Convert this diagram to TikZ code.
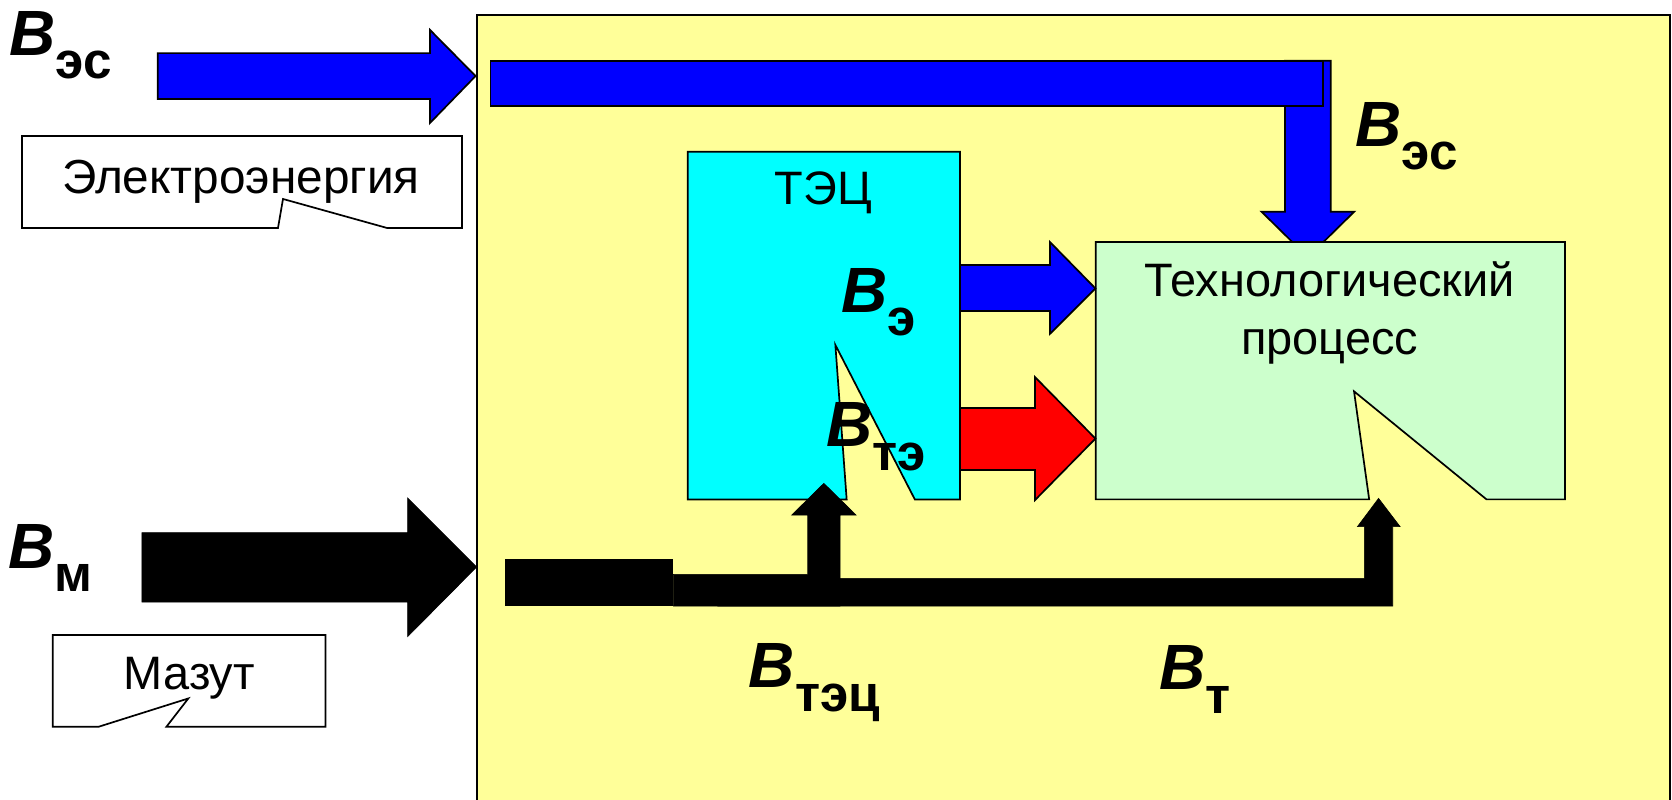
\documentclass[tikz,border=0pt]{standalone}
\usepackage{fontspec}
\setmainfont{Liberation Sans}
\definecolor{bgyellow}{RGB}{255,255,153}
\definecolor{procgreen}{RGB}{204,255,204}
\definecolor{tecblue}{RGB}{0,0,255}
\definecolor{tecred}{RGB}{255,0,0}
\definecolor{teccyan}{RGB}{0,255,255}
\newcommand\Bsym[1]{{\fontsize{30}{30}\selectfont\bfseries\itshape B}\raisebox{-11pt}{\fontsize{24}{24}\selectfont\bfseries #1}}
\tikzset{
  outl/.style={draw=black, line width=0.8pt, line join=miter},
  bluearrow/.style={outl, fill=tecblue},
  redarrow/.style={outl, fill=tecred},
  blackarrow/.style={fill=black, draw=black, line width=0.3pt},
  calloutbox/.style={outl, fill=white},
  lbl/.style={inner sep=0pt, anchor=base, font=\fontsize{22}{26.8}\selectfont},
  blbl/.style={inner sep=0pt, anchor=base west},
}
\begin{document}
\begin{tikzpicture}[x=0.5pt,y=-0.5pt]
\clip (0,0) rectangle (1568,750);
\fill[white] (0,0) rectangle (1568,750);
% enterprise boundary
\draw[outl, fill=bgyellow] (447,14) rectangle (1566,770);
% electricity input arrow
\draw[bluearrow] (148,49.8) -- (403.3,49.8) -- (403.3,28.1) -- (446,71.3) -- (403.3,115.3) -- (403.3,92.8) -- (148,92.8) -- cycle;
% electricity bus and down arrow
\draw[bluearrow] (1205,57) -- (1248,57) -- (1248,198.5) -- (1270,198.5) -- (1226.5,241.3) -- (1183,198.5) -- (1205,198.5) -- cycle;
\draw[bluearrow] (460,57) rectangle (1241,99.4);
% fuel oil input arrow
\draw[blackarrow] (133,499.6) -- (382.3,499.6) -- (382.3,467) -- (447,531.7) -- (382.3,597) -- (382.3,564.6) -- (133,564.6) -- cycle;
% callouts
\draw[calloutbox] (20.6,127.5) -- (433.3,127.5) -- (433.3,213.8) -- (363,213.8) -- (265.4,186.6) -- (260.7,213.8) -- (20.6,213.8) -- cycle;
\node[lbl, font=\fontsize{22.4}{26.8}\selectfont] (elen) at (226,181) {Электроэнергия};
\draw[calloutbox] (49.5,595.5) -- (305.3,595.5) -- (305.3,681.5) -- (156.1,681.5) -- (176.6,655) -- (92.6,681.5) -- (49.5,681.5) -- cycle;
\node[lbl] (mazut) at (177.6,647) {Мазут};
% CHP box
\draw[outl, fill=teccyan] (645,142.3) -- (900.3,142.3) -- (900.3,468.5) -- (858,468.5) -- (783.4,323.5) -- (794,468.5) -- (645,468.5) -- cycle;
\node[lbl] (tec) at (772,192) {ТЭЦ};
% process box
\draw[outl, fill=procgreen] (1027.5,227) -- (1467.7,227) -- (1467.7,468.3) -- (1394,468.3) -- (1269.8,367) -- (1284,468.3) -- (1027.5,468.3) -- cycle;
\node[lbl] (proc1) at (1247,278.4) {Технологический};
\node[lbl] (proc2) at (1247,332) {процесс};
% CHP outputs
\draw[bluearrow] (900.3,248.5) -- (984.7,248.5) -- (984.7,227) -- (1027.3,270.5) -- (984.7,313) -- (984.7,291.7) -- (900.3,291.7) -- cycle;
\draw[redarrow] (900.3,382.6) -- (970.6,382.6) -- (970.6,353.6) -- (1027.3,411.3) -- (970.6,469) -- (970.6,440.8) -- (900.3,440.8) -- cycle;
% fuel distribution
\fill[black] (473.6,524.6) rectangle (631.5,568.3);
\draw[blackarrow] (631.5,538.6) -- (757.5,538.6) -- (757.5,483) -- (742.5,483) -- (772.6,453.3) -- (802.8,483) -- (787.8,483) -- (787.8,568.3) -- (631.5,568.3) -- cycle;
\draw[blackarrow] (673,542.4) -- (1279.5,542.4) -- (1279.5,493.9) -- (1273,493.9) -- (1292.8,467.4) -- (1313,493.9) -- (1306.1,493.9) -- (1306.1,568.3) -- (673,568.3) -- cycle;
% symbols
\node[blbl] (bes1) at (8.5,51.6) {\Bsym{эс}};
\node[blbl] (bes2) at (1270.5,137) {\Bsym{эс}};
\node[blbl] (be) at (788.5,292.6) {\Bsym{э}};
\node[blbl] (bte) at (774.4,419) {\Bsym{тэ}};
\node[blbl] (bm) at (7.8,532.7) {\Bsym{м}};
\node[blbl] (btec) at (702,645) {\Bsym{тэц}};
\node[blbl] (bt) at (1086.7,646.7) {\Bsym{т}};
\end{tikzpicture}
\end{document}
